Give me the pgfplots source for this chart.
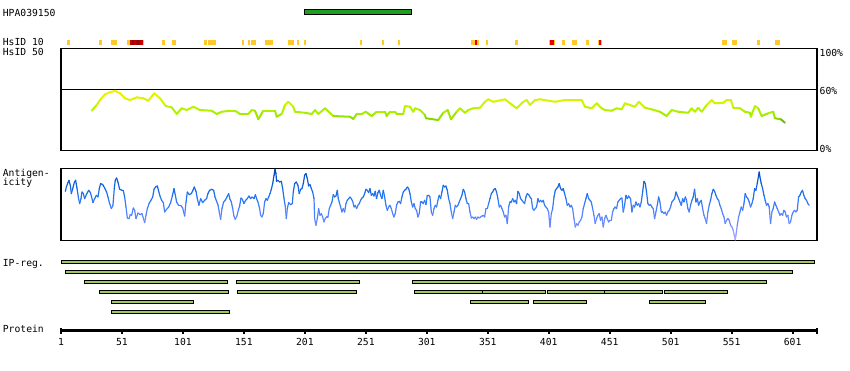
\documentclass[border=0pt]{standalone}
\usepackage{pgfplots}
\pgfplotsset{compat=1.18}
\usepackage{fontspec}
\setmainfont{DejaVu Sans Mono}
\definecolor{hsy}{RGB}{255,200,40}
\definecolor{hsr}{RGB}{225,0,0}
\definecolor{hsd}{RGB}{160,0,0}
\definecolor{hsm}{RGB}{195,0,0}
\definecolor{ipg}{RGB}{160,200,90}
\definecolor{hpag}{RGB}{30,160,30}
\newcommand{\hsmark}[3]{\addplot[fill=#3, draw=none] coordinates {(#1,40) (#2,40) (#2,44.7) (#1,44.7)} -- cycle;}
\newcommand{\ipbar}[4]{\addplot[fill=ipg, draw=black, line width=1pt] coordinates {(#1,#3) (#2,#3) (#2,#4) (#1,#4)} -- cycle;}
\pgfplotsset{
  panel/.style={scale only axis, width=756pt, xmin=1, xmax=621, ticks=none,
    axis line style={line width=1.2pt}},
}
\begin{document}
\begin{tikzpicture}[every node/.style={font=\fontsize{9.7}{11}\selectfont, inner sep=0pt}]
\useasboundingbox (0,0) rectangle (850pt,-370pt);

% ---------- HsID 50 panel ----------
\begin{axis}[panel, at={(61pt,-150.3pt)}, anchor=south west, height=102pt,
  ymin=0, ymax=100,
  colormap={hs}{rgb255(0cm)=(90,170,30) rgb255(4cm)=(140,220,0) rgb255(10cm)=(170,240,0) rgb255(18cm)=(205,245,0) rgb255(31cm)=(245,240,0)},
  point meta min=27, point meta max=58]
\addplot[black, line width=1.2pt] coordinates {(1,60) (621,60)};
\addplot[mesh, point meta=y, line width=2pt, line cap=round] coordinates {
(26.2,38.8) (30.3,44.4) (33.0,49.3) (37.1,54.9) (41.2,56.8) (45.3,58.4) (49.4,55.9) (53.5,51.0)
(57.6,49.3) (63.1,51.9) (68.5,51.0) (72.6,48.6) (77.5,55.9) (82.2,51.0) (86.9,43.4) (91.8,42.1)
(95.9,35.6) (100.0,41.2) (104.1,39.5) (109.5,42.7) (115.0,39.5) (124.6,38.8) (128.7,35.6) (132.8,37.8)
(139.6,38.8) (143.7,38.8) (147.8,35.6) (154.6,35.6) (157.4,39.5) (160.1,38.8) (162.8,30.4) (166.9,38.8)
(176.5,38.8) (177.9,32.9) (182.0,35.6) (184.7,44.4) (187.4,47.6) (191.5,42.7) (192.9,37.8) (201.1,36.8)
(206.6,35.6) (209.3,39.5) (212.0,35.6) (217.5,41.2) (224.3,33.6) (238.0,32.9) (240.7,30.7) (243.5,35.6)
(247.6,35.6) (250.9,37.8) (255.8,33.6) (259.9,37.8) (266.7,37.8) (268.1,33.6) (270.8,37.8) (274.9,37.8)
(276.3,35.6) (281.7,35.6) (283.1,43.4) (287.2,42.7) (289.9,37.8) (291.3,41.2) (295.4,39.5) (299.5,34.6)
(300.3,31.4) (310.4,29.7) (314.5,36.8) (318.1,39.5) (320.8,30.4) (325.5,37.8) (328.2,41.2) (332.3,36.8)
(335.0,39.5) (339.1,41.2) (344.6,41.7) (348.7,47.6) (351.4,50.0) (355.5,47.6) (365.1,50.0) (369.2,46.1)
(374.7,41.2) (380.1,47.6) (382.9,49.3) (385.6,44.4) (389.7,49.3) (393.8,50.0) (406.1,47.6) (414.3,49.3)
(428.0,49.3) (430.7,42.7) (436.2,41.2) (440.3,46.1) (444.4,41.2) (447.1,39.5) (452.6,38.8) (456.7,41.2)
(460.8,40.2) (463.5,46.1) (467.6,44.4) (471.7,42.7) (475.0,47.6) (479.9,41.7) (485.4,40.2) (492.2,37.8)
(497.7,33.6) (501.8,39.5) (507.2,37.8) (515.4,36.8) (518.2,41.2) (520.9,37.8) (523.6,41.7) (526.4,37.8)
(530.5,44.4) (534.6,49.3) (537.3,46.1) (544.1,46.6) (546.9,49.3) (550.4,49.3) (552.3,41.7) (557.8,41.2)
(561.9,37.8) (566.0,36.8) (566.8,32.9) (570.1,43.4) (572.8,41.2) (575.6,33.6) (581.0,36.3) (585.1,37.8)
(586.5,31.4) (591.4,30.4) (594.7,27.0)
};
\end{axis}

% ---------- Antigenicity panel ----------
\begin{axis}[panel, at={(61pt,-240.3pt)}, anchor=south west, height=72pt,
  ymin=0, ymax=72,
  colormap={ag}{rgb255(0cm)=(185,170,255) rgb255(15cm)=(115,140,255) rgb255(30cm)=(75,130,255) rgb255(45cm)=(30,115,240) rgb255(60cm)=(10,90,215) rgb255(72cm)=(0,60,170)},
  point meta min=0, point meta max=72]
\addplot[mesh, point meta=y, line width=1.2pt, line cap=round] coordinates {
(4.55,49.0) (5.4,53.3) (6.7,57.7) (7.6,60.0) (8.7,54.3) (9.5,46.7) (10.6,51.7) (11.9,57.7) (13.0,60.0)
(14.1,52.3) (15.2,43.3) (16.3,36.7) (17.4,41.7) (18.2,48.3) (19.3,46.7) (20.4,41.7) (21.8,45.7) (23.7,50.0)
(25.1,47.7) (26.1,43.3) (27.2,37.7) (28.6,41.7) (30.0,45.0) (31.3,43.3) (32.4,51.7) (33.5,56.7) (35.2,55.7)
(36.8,52.3) (38.4,48.3) (39.5,43.3) (40.9,36.7) (42.3,31.7) (43.6,35.0) (44.7,51.7) (45.5,60.0) (46.6,62.3)
(47.7,58.3) (49.1,51.0) (50.5,50.3) (52.1,49.7) (53.2,43.3) (54.3,33.3) (55.4,22.3) (56.8,21.7) (57.8,25.7)
(58.9,25.0) (60.3,32.3) (61.4,30.0) (62.5,21.7) (64.1,27.3) (65.8,25.7) (67.4,26.7) (68.5,22.3) (69.6,17.7)
(70.7,25.0) (71.8,31.7) (73.2,36.7) (74.8,40.0) (76.2,43.3) (77.3,51.0) (78.6,53.3) (80.0,54.3) (81.1,49.0)
(82.2,44.3) (83.5,40.0) (84.9,37.7) (86.0,28.3) (87.6,31.0) (89.3,33.3) (90.9,37.7) (92.3,44.3) (93.7,51.7)
(94.7,45.7) (95.8,38.3) (97.5,35.0) (99.1,35.0) (100.8,32.3) (102.4,24.3) (103.5,37.7) (104.6,48.3) (106.2,45.7)
(107.9,46.7) (109.2,50.0) (110.3,53.3) (111.7,49.0) (112.8,41.7) (114.1,35.0) (115.5,41.7) (117.2,37.7) (118.8,40.0)
(120.4,41.7) (121.5,46.7) (122.9,50.0) (124.5,51.0) (126.2,50.0) (127.3,43.3) (128.6,39.0) (129.7,35.7) (130.8,28.3)
(131.9,21.0) (133.0,31.7) (134.4,38.3) (135.7,40.0) (137.1,43.3) (138.5,46.7) (139.6,41.0) (140.7,38.3) (141.8,31.7)
(142.8,24.3) (143.9,21.0) (145.3,24.3) (146.4,30.0) (147.5,34.3) (148.6,42.3) (149.7,41.0) (151.0,36.7) (152.4,40.0)
(153.8,41.7) (155.1,44.3)
(156.5,41.7) (157.6,43.3) (159.3,41.7) (160.4,45.7) (161.4,41.7) (162.5,38.3) (163.9,31.7) (164.7,25.0) (165.8,23.3)
(166.9,26.7) (168.0,38.3) (169.1,41.7) (170.2,40.0) (171.3,43.3) (172.4,46.7) (173.5,51.0) (174.6,56.7) (175.7,65.0)
(176.5,71.0) (177.3,66.7) (177.8,59.0) (178.9,60.0) (180.3,58.3) (181.7,59.0) (182.8,51.7) (183.9,41.7) (185.0,33.3)
(185.8,21.7) (186.6,31.7) (187.7,37.7) (189.3,35.7) (190.7,36.7) (191.5,48.3) (192.6,56.7) (194.0,58.3) (195.3,55.0)
(196.4,46.7) (197.5,51.0) (198.6,51.7) (199.7,56.7) (200.8,65.0) (201.9,66.7) (203.0,61.7) (204.1,54.3) (205.2,55.7)
(206.3,51.7) (207.4,48.3) (208.5,41.7) (209.0,21.7) (210.1,15.0) (211.2,21.7) (212.3,31.7) (213.4,25.0) (214.5,26.7)
(215.6,23.3) (216.7,18.3) (217.7,21.7) (218.8,23.3) (219.9,23.3) (221.0,31.7) (222.1,35.0) (223.2,38.3) (224.3,45.7)
(225.4,43.3) (226.5,44.3) (227.6,50.0) (228.4,41.7) (229.2,38.3) (230.3,33.3) (231.4,28.3) (232.5,31.7) (233.6,28.3)
(234.7,36.7) (235.8,40.0) (236.9,41.7) (238.0,43.3) (239.1,41.7) (240.2,39.0) (241.3,33.3) (242.3,35.0) (243.4,31.7)
(244.5,35.0) (245.6,36.7) (246.7,40.0) (247.8,42.3) (248.9,43.3) (250.0,46.7) (251.1,51.0) (252.2,50.0) (253.3,47.7)
(254.4,51.7) (255.5,45.0) (256.6,46.7) (257.6,44.3) (258.7,49.0) (259.8,41.7) (260.9,47.7) (262.0,50.0) (263.1,45.0)
(264.2,41.7) (265.3,50.0) (266.4,43.3) (267.5,35.0) (268.6,30.0) (269.7,33.3) (270.8,35.0) (271.9,31.7) (273.0,26.7)
(274.0,23.3) (275.1,26.7) (276.2,35.0) (277.3,38.3) (278.4,39.0) (279.5,36.7) (280.6,43.3) (281.7,48.3) (282.8,50.0)
(283.9,51.0) (285.0,53.3) (286.1,51.7) (287.2,46.7) (288.3,38.3) (289.4,33.3) (290.5,36.7) (291.5,31.7) (292.6,30.0)
(293.7,23.3) (294.8,26.7) (295.9,38.3) (297.0,38.3) (298.1,36.7) (299.2,40.0) (300.3,35.7) (301.4,45.0) (302.5,45.0)
(303.6,43.3) (304.7,28.3) (305.8,25.0) (306.9,31.7) (307.9,35.0) (309.0,33.3) (310.1,40.0) (311.2,45.0)
(312.3,41.7) (313.4,48.3) (314.5,55.0) (315.6,53.3) (316.7,54.3) (317.8,50.0) (318.9,41.7) (320.0,36.7) (321.1,28.3)
(322.2,21.7) (323.3,28.3) (324.4,35.0) (325.4,33.3) (326.5,35.0) (327.6,38.3) (328.7,41.7) (329.8,45.0) (330.9,51.0)
(332.0,48.3) (333.1,41.7) (334.2,36.7) (335.3,36.7) (336.4,28.3) (337.5,22.3) (338.6,23.3) (339.7,21.7) (340.8,23.3)
(341.8,21.0) (342.9,23.3) (344.0,22.3) (345.1,23.3) (346.2,24.3) (347.3,25.0) (348.4,23.3) (349.5,31.7) (350.6,31.7)
(351.7,36.7) (352.8,41.7) (353.9,46.7) (355.0,48.3) (356.1,51.0) (357.2,51.7) (358.2,48.3) (359.3,41.7) (360.4,33.3)
(361.5,35.0) (362.6,31.7) (363.7,28.3) (364.8,23.3) (365.9,25.0) (367.0,16.7) (368.1,33.3) (369.2,38.3) (370.3,38.3)
(371.4,41.7) (372.5,38.3) (373.5,40.0) (374.6,36.7) (375.7,49.0) (376.8,46.7) (377.9,41.7) (379.0,40.0) (380.1,38.3)
(381.2,36.7) (382.3,43.3) (383.4,46.7) (384.5,45.7) (385.6,43.3) (386.7,41.7) (387.8,31.7) (388.9,30.0) (389.9,31.7)
(391.0,33.3) (392.1,41.7) (393.2,38.3) (394.3,40.0) (395.4,38.3) (396.5,40.0) (397.6,35.0) (398.7,33.3) (399.8,31.7)
(400.9,28.3) (402.0,13.3) (403.1,26.7) (404.2,31.7) (405.3,43.3) (406.4,50.0) (407.4,51.7) (408.5,53.3) (409.6,56.7)
(410.7,51.7) (411.8,50.0) (412.9,51.7) (414.0,46.7) (415.1,41.7) (416.2,35.0) (417.3,36.7) (418.4,33.3) (419.5,35.0)
(420.6,31.7) (421.7,21.7) (422.8,13.3) (423.8,16.7) (424.9,15.0) (426.0,18.3) (427.1,20.0) (428.2,23.3) (429.3,31.7)
(430.4,36.7) (431.5,41.7) (432.6,46.7) (433.7,41.7) (434.8,40.0) (435.9,38.3) (437.0,31.7) (438.1,25.0) (439.1,16.7)
(440.2,21.7) (441.3,25.0) (442.4,26.7) (443.5,20.0) (444.6,23.3) (445.7,13.3) (446.8,21.7) (447.9,25.0) (449.0,21.7)
(450.1,18.3) (451.2,20.0) (452.3,20.0) (453.4,28.3) (454.4,31.7) (455.5,33.3) (456.6,31.7) (457.7,38.3) (458.8,40.0)
(459.9,41.7) (461.0,42.3) (462.1,28.3) (463.2,35.0) (464.3,45.0) (465.4,41.7) (466.5,44.3)
(467.0,43.3) (468.1,41.7) (469.2,28.3) (470.3,35.0) (471.4,33.3) (472.5,38.3) (473.6,35.0) (474.7,36.7) (475.8,33.3)
(476.9,38.3) (478.0,48.3) (479.1,59.0) (480.2,56.7) (481.2,48.3) (482.3,36.7) (483.4,35.0) (484.5,35.7) (485.6,33.3)
(486.7,31.7) (487.8,21.7) (488.9,28.3) (490.0,35.0) (491.1,43.3) (492.2,38.3) (493.3,28.3) (494.4,28.3) (495.5,26.7)
(496.6,28.3) (497.6,25.0) (498.7,28.3) (499.8,30.0) (500.9,33.3) (502.0,38.3) (503.1,40.0) (504.2,41.7) (505.3,48.3)
(506.4,45.0) (507.5,41.7) (508.6,38.3) (509.7,35.0) (510.8,41.7) (511.9,38.3) (513.0,43.3) (514.0,40.0) (515.1,31.7)
(516.2,28.3) (517.3,35.0) (518.4,40.0) (519.5,43.3) (520.6,51.0) (521.7,38.3) (522.8,41.7) (523.9,35.0) (525.0,38.3)
(526.1,40.0) (527.2,31.7) (528.3,25.0) (529.3,21.7) (530.4,16.7) (531.5,28.3) (532.6,35.0) (533.7,40.0) (534.8,46.7)
(535.9,51.0) (537.0,49.0) (538.1,45.0) (539.2,41.7) (540.3,40.0) (541.4,35.0) (542.5,31.7) (543.6,26.7) (544.7,23.3)
(545.7,16.7) (546.8,20.0) (547.9,21.7) (549.0,20.0) (550.1,15.0) (551.2,13.3) (552.3,10.0) (553.4,3.3) (554.0,0.5)
(554.5,5.0) (555.6,15.0) (556.7,23.3) (557.8,28.3) (558.9,33.3) (560.0,30.0) (561.1,36.7) (562.1,46.7) (563.2,43.3)
(564.3,41.7) (565.4,38.3) (566.5,33.3) (567.6,36.7) (568.7,41.7) (569.8,51.7) (570.9,50.0) (572.0,56.7) (573.1,65.0)
(573.6,68.3) (574.2,63.3) (575.3,56.7) (576.4,51.7) (577.5,45.0) (578.5,40.0) (579.6,35.0) (580.7,36.7) (581.8,33.3)
(582.9,16.7) (584.0,28.3) (585.1,31.7) (586.2,38.3) (587.3,35.0) (588.4,31.7) (589.5,28.3) (590.6,25.0) (591.7,26.7)
(592.8,25.0) (593.8,30.0) (594.9,28.3) (596.0,23.3) (597.1,25.0) (598.2,16.7) (599.3,18.3) (600.4,25.0) (601.5,28.3)
(602.6,30.0) (603.7,28.3) (604.8,30.0) (605.9,43.3) (607.0,45.0) (608.1,48.3) (609.1,50.0) (610.2,45.0) (611.3,41.7)
(612.4,40.0) (613.5,36.7) (614.6,35.0)
};
\end{axis}

% ---------- Overlay: epitope, HsID 10, IP-reg, protein axis ----------
\begin{axis}[scale only axis, width=756pt, height=370pt, at={(61pt,0pt)}, anchor=north west,
  xmin=1, xmax=621, ymin=0, ymax=370, y dir=reverse, hide axis, clip=false]
% HPA039150 epitope
\addplot[fill=hpag, draw=black, line width=1pt] coordinates {(200.9,9.8) (288.4,9.8) (288.4,14.2) (200.9,14.2)} -- cycle;
% HsID 10 marks
\hsmark{5.9}{8.1}{hsy}
\hsmark{32.2}{34.4}{hsy}
\hsmark{42}{46.9}{hsy}
\hsmark{55.1}{57.3}{hsy}
\hsmark{57.3}{59.2}{hsm}
\hsmark{59.2}{60.8}{hsd}
\hsmark{60.8}{62.5}{hsm}
\hsmark{62.5}{65.8}{hsd}
\hsmark{65.8}{68.2}{hsm}
\hsmark{68.2}{69.3}{hsy}
\hsmark{83.8}{86}{hsy}
\hsmark{92}{95}{hsy}
\hsmark{118.3}{120.7}{hsy}
\hsmark{121.5}{128.1}{hsy}
\hsmark{149.4}{150.8}{hsy}
\hsmark{154.3}{155.7}{hsy}
\hsmark{156.8}{160.9}{hsy}
\hsmark{168.3}{174.8}{hsy}
\hsmark{187.1}{192.1}{hsy}
\hsmark{194.5}{196.2}{hsy}
\hsmark{200.3}{201.9}{hsy}
\hsmark{246.2}{247.8}{hsy}
\hsmark{264.2}{265.9}{hsy}
\hsmark{277.3}{279}{hsy}
\hsmark{337.2}{340.2}{hsy}
\hsmark{340.2}{341.9}{hsr}
\hsmark{341.9}{343.5}{hsy}
\hsmark{349.5}{350.9}{hsy}
\hsmark{373.3}{375.5}{hsy}
\hsmark{401.2}{402}{hsy}
\hsmark{402}{405}{hsr}
\hsmark{405}{405.8}{hsy}
\hsmark{411.8}{414}{hsy}
\hsmark{420}{423.9}{hsy}
\hsmark{431.5}{433.7}{hsy}
\hsmark{441.3}{442.2}{hsy}
\hsmark{442.2}{443.6}{hsr}
\hsmark{443.6}{444.4}{hsy}
\hsmark{543}{546.9}{hsy}
\hsmark{551.2}{555.1}{hsy}
\hsmark{571.7}{573.9}{hsy}
\hsmark{586.5}{590.6}{hsy}
% IP-reg bars
\ipbar{1.6}{618.6}{260.8}{263.8}
\ipbar{4.9}{600.6}{270.8}{273.8}
\ipbar{20.5}{137.3}{280.8}{283.8}
\ipbar{145.1}{245.5}{280.8}{283.8}
\ipbar{289.5}{579.3}{280.8}{283.8}
\ipbar{32.8}{138.1}{290.8}{293.8}
\ipbar{146.0}{243.1}{290.8}{293.8}
\ipbar{291.1}{347.0}{290.8}{293.8}
\ipbar{347.0}{398.1}{290.8}{293.8}
\ipbar{400.2}{446.8}{290.8}{293.8}
\ipbar{446.8}{494.0}{290.8}{293.8}
\ipbar{496.1}{547.3}{290.8}{293.8}
\ipbar{42.7}{109.4}{300.8}{303.8}
\ipbar{337.0}{384.1}{300.8}{303.8}
\ipbar{388.7}{431.7}{300.8}{303.8}
\ipbar{483.8}{529.3}{300.8}{303.8}
\ipbar{42.7}{138.9}{310.8}{313.8}
% Protein axis
\addplot[black, line width=3pt] coordinates {(1,330) (621,330)};
\addplot[black, line width=1.8pt] coordinates {(1,327.8) (1,333.6)};
\addplot[black, line width=1.8pt] coordinates {(621,327.8) (621,333.6)};
\pgfplotsinvokeforeach{51,101,...,601}{
  \addplot[black, line width=1.8pt] coordinates {(#1,330) (#1,334.3)};
  \node[anchor=base, font=\fontsize{9.7}{11}\selectfont, inner sep=0pt] at (axis cs:#1,345) {#1};
}
\node[anchor=base, font=\fontsize{9.7}{11}\selectfont, inner sep=0pt] at (axis cs:1,345) {1};
\end{axis}

% ---------- Labels ----------
\node[anchor=base west] at (2.7pt,-16pt) {HPA039150};
\node[anchor=base west] at (2.7pt,-45.3pt) {HsID 10};
\node[anchor=base west] at (2.7pt,-55.3pt) {HsID 50};
\node[anchor=base west] at (2.7pt,-176pt) {Antigen-};
\node[anchor=base west] at (2.7pt,-185pt) {icity};
\node[anchor=base west] at (2.7pt,-266.7pt) {IP-reg.};
\node[anchor=base west] at (2.7pt,-332.7pt) {Protein};
\node[anchor=base west] at (819.5pt,-56pt) {100\%};
\node[anchor=base west] at (819.5pt,-94pt) {60\%};
\node[anchor=base west] at (819.5pt,-152.7pt) {0\%};
\end{tikzpicture}
\end{document}
